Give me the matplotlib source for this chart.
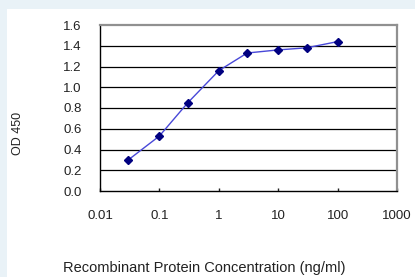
import matplotlib
matplotlib.use("Agg")
import matplotlib.pyplot as plt
from matplotlib.patches import Rectangle
from matplotlib.ticker import FixedLocator, NullLocator

plt.rcParams["font.family"] = ["Liberation Sans", "DejaVu Sans"]

# concentration (ng/ml) and OD 450 readings
conc = [0.03, 0.1, 0.3, 1, 3, 10, 30, 100]
od450 = [0.30, 0.53, 0.85, 1.16, 1.33, 1.36, 1.38, 1.44]

x_ticks = [0.01, 0.1, 1, 10, 100, 1000]
x_tick_labels = ["0.01", "0.1", "1", "10", "100", "1000"]
y_ticks = [0.0, 0.2, 0.4, 0.6, 0.8, 1.0, 1.2, 1.4, 1.6]

W, H = 415, 277
fig = plt.figure(figsize=(W / 100, H / 100), dpi=100)
fig.patch.set_facecolor("#e9f2f7")
fig.patches.append(Rectangle((7 / W, 0), 1 - 7 / W, (H - 9) / H, transform=fig.transFigure,
                             facecolor="white", edgecolor="none", zorder=-5))

ax = fig.add_axes([100 / W, (H - 191) / H, 297 / W, 166 / H])
ax.set_facecolor("white")
ax.set_xscale("log")
ax.set_xlim(0.01, 1000)
ax.set_ylim(0, 1.6)

for y in y_ticks[1:-1]:
    ax.axhline(y, color="black", lw=0.9, zorder=1)

ax.plot(conc, od450, color="#4848d8", lw=1.0, zorder=2)
ax.plot(conc, od450, ls="none", marker="D", ms=4.5, color="#000080", zorder=3)

for s in ("top", "right"):
    ax.spines[s].set_color("#909090")
    ax.spines[s].set_linewidth(1.6)
for s in ("left", "bottom"):
    ax.spines[s].set_color("black")
    ax.spines[s].set_linewidth(1.0)

ax.xaxis.set_major_locator(FixedLocator(x_ticks))
ax.xaxis.set_minor_locator(NullLocator())
ax.set_xticklabels(x_tick_labels)
ax.set_yticks(y_ticks)
ax.set_yticklabels([f"{v:.1f}" for v in y_ticks])
ax.tick_params(axis="x", direction="in", length=2.5, width=1, pad=14, labelsize=9.5, colors="#222222")
ax.tick_params(axis="y", length=0, pad=13, labelsize=9.5, colors="#222222")

fig.text(18 / W, 1 - 133 / H, "OD 450", rotation=90, ha="center", va="center",
         fontsize=9, color="#222222")
fig.text(204 / W, 1 - 268 / H, "Recombinant Protein Concentration (ng/ml)", ha="center",
         va="center", fontsize=10.5, color="#222222")

fig.savefig("out.png", dpi=100, facecolor=fig.get_facecolor())
